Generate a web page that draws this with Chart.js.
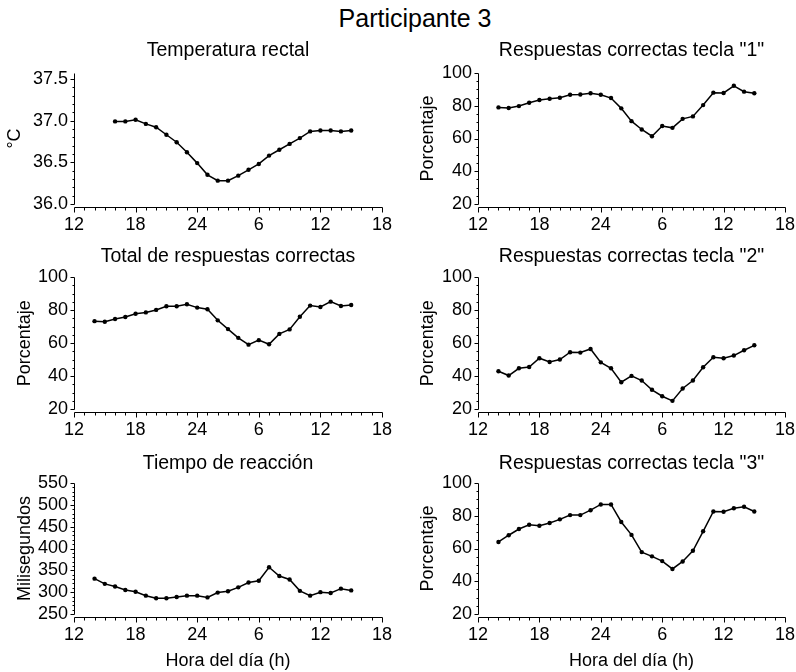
<!DOCTYPE html>
<html><head><meta charset="utf-8">
<script src="https://cdn.jsdelivr.net/npm/chart.js@4"></script>
<style>
html,body{margin:0;padding:0;background:#fff;}
body{width:796px;height:672px;position:relative;overflow:hidden;font-family:'Liberation Sans',Arial,sans-serif;}
canvas{position:absolute;display:block;}
#main{position:absolute;top:4px;left:0;width:830px;text-align:center;font-size:25px;line-height:28px;color:#000;}
</style></head><body>
<div id="main">Participante 3</div>
<canvas id="c1"></canvas><canvas id="c2"></canvas>
<canvas id="c3"></canvas><canvas id="c4"></canvas>
<canvas id="c5"></canvas><canvas id="c6"></canvas>
<script>
// ---- data ----
const hoursTemp = [16,17,18,19,20,21,22,23,24,25,26,27,28,29,30,31,32,33,34,35,36,37,38,39];
const tempValues = [36.99,36.99,37.01,36.96,36.92,36.83,36.74,36.62,36.49,36.35,36.28,36.28,36.34,36.41,36.48,36.58,36.65,36.72,36.79,36.87,36.88,36.88,36.87,36.88];
const hoursPerf = [14,15,16,17,18,19,20,21,22,23,24,25,26,27,28,29,30,31,32,33,34,35,36,37,38,39];
const key1Correct = [79.0,78.6,79.8,81.8,83.5,84.3,84.9,86.7,86.9,87.6,86.7,84.7,78.4,70.6,65.5,61.4,67.6,66.5,72.0,73.5,80.4,88.0,87.8,92.2,88.6,87.6];
const totalCorrect = [73.3,72.9,74.6,75.8,77.8,78.6,80.1,82.3,82.3,83.5,81.5,80.5,73.8,68.5,63.2,59.1,61.8,59.3,65.6,68.3,76.0,82.7,81.9,85.1,82.5,83.1];
const key2Correct = [43.0,40.4,44.8,45.6,50.9,48.6,50.1,54.5,54.3,56.5,48.4,44.8,36.4,40.2,37.4,31.8,27.9,25.1,32.6,37.4,45.4,51.5,50.9,52.5,55.7,58.7];
const reactionTime = [331,319,313,305,301,292,286,286,289,292,292,288,299,302,311,322,326,357,337,329,303,292,300,298,308,304];
const key3Correct = [64.0,68.1,71.9,74.5,73.9,75.6,77.8,80.4,80.4,83.4,86.9,86.9,76.2,68.3,57.8,55.2,52.3,47.5,52.1,58.6,70.5,82.6,82.4,84.6,85.5,82.6];
const xTickValues = [12,18,24,30,36,42];
const xTickLabels = ['12','18','24','6','12','18'];
const tempTicks = [36.0,36.5,37.0,37.5];
const pctTicks = [20,40,60,80,100];
const rtTicks = [250,300,350,400,450,500,550];

const FONT = "'Liberation Sans', Arial, sans-serif";

const prismAxes = {
  id: 'prismAxes',
  afterDraw(chart, args, o) {
    const ctx = chart.ctx, x = chart.scales.x, y = chart.scales.y;
    const yb = Math.round(y.getPixelForValue(o.yTicks[0])) + 0.5;
    const yt = Math.round(y.getPixelForValue(y.max)) + 0.5;
    const xa = yb + o.gap;
    const xl = Math.round(x.getPixelForValue(x.min)) + 0.5;
    const xr = Math.round(x.getPixelForValue(x.max)) + 0.5;
    ctx.save();
    ctx.strokeStyle = '#000'; ctx.lineWidth = 1;
    ctx.beginPath();
    ctx.moveTo(xl, yt); ctx.lineTo(xl, yb);
    const y0 = o.yTicks[0], y1 = o.yTicks[o.yTicks.length - 1];
    const n = Math.round((y1 - y0) / o.yMinor);
    for (let i = 0; i <= n; i++) {
      const v = y0 + i * o.yMinor;
      const major = o.yTicks.some(t => Math.abs(t - v) < 1e-6);
      const p = Math.round(y.getPixelForValue(v)) + 0.5;
      ctx.moveTo(xl, p); ctx.lineTo(xl - (major ? 4 : 2), p);
    }
    ctx.moveTo(xl, xa); ctx.lineTo(xr, xa);
    for (let h = x.min; h <= x.max; h++) {
      const p = Math.round(x.getPixelForValue(h)) + 0.5;
      const major = (h - x.min) % 6 === 0;
      ctx.moveTo(p, xa); ctx.lineTo(p, xa + (major ? 5 : 3));
    }
    ctx.stroke();
    ctx.restore();
  }
};

function makePanel(id, p) {
  const cv = document.getElementById(id);
  cv.width = p.w; cv.height = p.h;
  cv.style.left = p.left + 'px'; cv.style.top = p.top + 'px';
  cv.style.width = p.w + 'px'; cv.style.height = p.h + 'px';
  new Chart(cv, {
    type: 'line',
    data: { datasets: [{
      data: p.hours.map((h, i) => ({ x: h, y: p.values[i] })),
      borderColor: '#000', borderWidth: 1.5,
      pointRadius: 2.2, pointBackgroundColor: '#000', pointBorderWidth: 0,
      tension: 0, clip: false
    }]},
    options: {
      responsive: false, animation: false, devicePixelRatio: 1,
      layout: { padding: { left: 0, right: p.padRight, top: 0, bottom: 0 } },
      plugins: {
        legend: { display: false }, tooltip: { enabled: false },
        title: { display: true, text: p.title, color: '#000', fullSize: false,
          font: { family: FONT, size: 19.5, weight: 'normal', lineHeight: 1.2 },
          padding: { top: p.tPadTop, bottom: p.tPadBottom } },
        prismAxes: { gap: 3, yTicks: p.yTicks, yMinor: p.yMinor }
      },
      scales: {
        x: {
          type: 'linear', min: 12, max: 42,
          afterBuildTicks: s => { s.ticks = xTickValues.map(v => ({ value: v })); },
          afterFit: s => { s.height = p.xHeight; s.paddingLeft = 0; s.paddingRight = 0; },
          grid: { display: false, drawTicks: false }, border: { display: false },
          ticks: { color: '#000', font: { family: FONT, size: 18 }, padding: 10, maxRotation: 0, autoSkip: false,
            callback: v => xTickLabels[xTickValues.indexOf(v)] },
          title: { display: !!p.xTitle, text: p.xTitle || '', color: '#000',
            font: { family: FONT, size: 18, lineHeight: 1.2 }, padding: { top: 0, bottom: 0 } }
        },
        y: {
          type: 'linear', min: p.yMin, max: p.yMax,
          afterBuildTicks: s => { s.ticks = p.yTicks.map(v => ({ value: v })); },
          afterFit: s => { s.width = 74; s.paddingTop = 0; s.paddingBottom = 0; },
          grid: { display: false, drawTicks: false }, border: { display: false },
          ticks: { color: '#000', font: { family: FONT, size: 18 }, padding: 6, autoSkip: false,
            callback: v => v.toFixed(p.dec) },
          title: { display: true, text: p.yTitle, color: '#000',
            font: { family: FONT, size: 18, lineHeight: 1.2 }, padding: { top: p.yTitlePad, bottom: 0 } }
        }
      }
    },
    plugins: [prismAxes]
  });
}

const L = { left: 0, w: 404, padRight: 22 };
const R = { left: 404, w: 392, padRight: 11 };
const row1 = { top: 30, h: 200, tPadTop: 8.8, tPadBottom: 10.8, xHeight: 26 };
const row2 = { top: 230, h: 207, tPadTop: 15.3, tPadBottom: 8.3, xHeight: 27.7 };
const row3 = { top: 437, h: 235, tPadTop: 15.3, tPadBottom: 7.3, xHeight: 58 };

makePanel('c1', Object.assign({}, L, row1, { title: 'Temperatura rectal', yTitle: '°C', yTitlePad: 4.2,
  hours: hoursTemp, values: tempValues, yMin: 36.0, yMax: 37.57, yTicks: tempTicks, yMinor: 0.1, dec: 1 }));
makePanel('c2', Object.assign({}, R, row1, { title: 'Respuestas correctas tecla "1"', yTitle: 'Porcentaje', yTitlePad: 13.2,
  hours: hoursPerf, values: key1Correct, yMin: 20, yMax: 100, yTicks: pctTicks, yMinor: 5, dec: 0 }));
makePanel('c3', Object.assign({}, L, row2, { title: 'Total de respuestas correctas', yTitle: 'Porcentaje', yTitlePad: 14.2,
  hours: hoursPerf, values: totalCorrect, yMin: 20, yMax: 100, yTicks: pctTicks, yMinor: 5, dec: 0 }));
makePanel('c4', Object.assign({}, R, row2, { title: 'Respuestas correctas tecla "2"', yTitle: 'Porcentaje', yTitlePad: 13.2,
  hours: hoursPerf, values: key2Correct, yMin: 20, yMax: 100, yTicks: pctTicks, yMinor: 5, dec: 0 }));
makePanel('c5', Object.assign({}, L, row3, { title: 'Tiempo de reacción', yTitle: 'Milisegundos', yTitlePad: 14.2, xTitle: 'Hora del día (h)',
  hours: hoursPerf, values: reactionTime, yMin: 250, yMax: 550, yTicks: rtTicks, yMinor: 10, dec: 0 }));
makePanel('c6', Object.assign({}, R, row3, { title: 'Respuestas correctas tecla "3"', yTitle: 'Porcentaje', yTitlePad: 13.2, xTitle: 'Hora del día (h)',
  hours: hoursPerf, values: key3Correct, yMin: 20, yMax: 100, yTicks: pctTicks, yMinor: 5, dec: 0 }));
</script>
</body></html>
